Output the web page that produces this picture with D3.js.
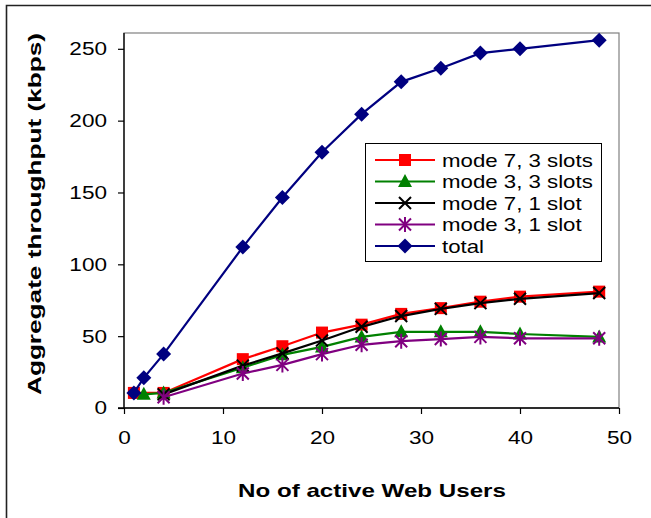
<!DOCTYPE html>
<html><head><meta charset="utf-8">
<script src="https://cdn.jsdelivr.net/npm/d3@7"></script>
<style>
body{margin:0;background:#fff;}
svg{display:block;font-family:"Liberation Sans",Arial,sans-serif;}
</style></head>
<body><svg id="c" width="651" height="518"></svg>
<script>
// ---- data ----
const seriesNames = ["mode 7, 3 slots","mode 3, 3 slots","mode 7, 1 slot","mode 3, 1 slot","total"];
const xMode73 = [1,4,12,16,20,24,28,32,36,40,48];
const yMode73 = [10.5,10.5,34,43,52.5,58,65.5,69.5,74,77.5,81];
const xMode33 = [2,4,12,16,20,24,28,32,36,40,48];
const yMode33 = [9.5,10.5,28,37,42.5,49.5,53,53,53,51.5,49.5];
const xMode71 = [4,12,16,20,24,28,32,36,40,48];
const yMode71 = [9.5,29.5,38,47,56.5,64,69,73,76,80];
const xMode31 = [4,12,16,20,24,28,32,36,40,48];
const yMode31 = [7.5,24,30,37.5,44,46.5,48,49.5,48.5,48.5];
const xTotal = [1,2,4,12,16,20,24,28,32,36,40,48];
const yTotal = [10.5,21,37.5,112,146.5,178,204.5,227,236.5,247,250,256];
const xTicks = [0,10,20,30,40,50];
const yTicks = [0,50,100,150,200,250];
const xMax = 50, yMax = 261;
const xTitle = "No of active Web Users";
const yTitle = "Aggregate throughput (kbps)";

// ---- drawing ----
const svg = d3.select("#c");
const L=124, R=619, T=33, B=408;
const x = d3.scaleLinear().domain([0,xMax]).range([L,R]);
const y = d3.scaleLinear().domain([0,yMax]).range([B,T]);

function stretch(sel, f){
  sel.each(function(){
    const n = this.getComputedTextLength();
    d3.select(this).attr("textLength", n*f).attr("lengthAdjust","spacingAndGlyphs");
  });
}

// outer frame (cropped: only top and left visible)
svg.append("path").attr("d","M6.5,518 V5.5 H651").attr("fill","none").attr("stroke","#222").attr("stroke-width",1.6);

// plot area border
svg.append("rect").attr("x",L).attr("y",T).attr("width",R-L).attr("height",B-T)
  .attr("fill","#fff").attr("stroke","#808080").attr("stroke-width",1.2);

// axes
const ax = svg.append("g").attr("transform",`translate(0,${B})`)
  .call(d3.axisBottom(x).tickValues(xTicks).tickSize(6).tickPadding(17).tickFormat(d3.format("d")));
const ay = svg.append("g").attr("transform",`translate(${L},0)`)
  .call(d3.axisLeft(y).tickValues(yTicks).tickSize(6).tickPadding(11).tickFormat(d3.format("d")));
[ax,ay].forEach(g=>{
  g.select(".domain").attr("stroke","#000").attr("stroke-width",1.3);
  g.selectAll(".tick line").attr("stroke","#000").attr("stroke-width",1.2);
  g.selectAll(".tick text").attr("fill","#000").style("font-size","18.5px").style("font-family","'Liberation Sans',Arial,sans-serif");
  stretch(g.selectAll(".tick text"), 1.22);
});
ay.select(".domain").attr("d",`M0,${T}V${B}`);
ax.select(".domain").attr("d",`M${L-6},0H${R}`);

// titles
const xt = svg.append("text").attr("x",372).attr("y",497).attr("text-anchor","middle")
  .style("font-size","19px").style("font-weight","bold").text(xTitle);
stretch(xt, 1.27);
const yt = svg.append("text").attr("transform","translate(41,214) rotate(-90)").attr("text-anchor","middle")
  .style("font-size","18.5px").style("font-weight","bold").text(yTitle);
yt.attr("textLength", 362).attr("lengthAdjust","spacingAndGlyphs");

// markers
function marker(g, type, color, cx, cy){
  if(type==="square"){
    g.append("rect").attr("x",cx-6).attr("y",cy-6).attr("width",12).attr("height",12).attr("fill",color);
  } else if(type==="triangle"){
    g.append("path").attr("d",`M${cx},${cy-7.5}L${cx+7},${cy+5.5}L${cx-7},${cy+5.5}Z`).attr("fill",color);
  } else if(type==="x"){
    g.append("path").attr("d",`M${cx-6},${cy-6}L${cx+6},${cy+6}M${cx+6},${cy-6}L${cx-6},${cy+6}`)
      .attr("stroke",color).attr("stroke-width",2).attr("fill","none");
  } else if(type==="star"){
    g.append("path").attr("d",`M${cx-6},${cy-6}L${cx+6},${cy+6}M${cx+6},${cy-6}L${cx-6},${cy+6}M${cx},${cy-7.5}L${cx},${cy+7.5}`)
      .attr("stroke",color).attr("stroke-width",2).attr("fill","none");
  } else if(type==="diamond"){
    g.append("path").attr("d",`M${cx},${cy-7.5}L${cx+7.5},${cy}L${cx},${cy+7.5}L${cx-7.5},${cy}Z`).attr("fill",color);
  }
}

const series = [
  {name:seriesNames[0], xs:xMode73, ys:yMode73, color:"#ff0000", m:"square"},
  {name:seriesNames[1], xs:xMode33, ys:yMode33, color:"#008000", m:"triangle"},
  {name:seriesNames[2], xs:xMode71, ys:yMode71, color:"#000000", m:"x"},
  {name:seriesNames[3], xs:xMode31, ys:yMode31, color:"#800080", m:"star"},
  {name:seriesNames[4], xs:xTotal, ys:yTotal, color:"#000080", m:"diamond"}
];
const line = d3.line().x(d=>x(d[0])).y(d=>y(d[1]));
series.forEach(s=>{
  const pts = s.xs.map((v,i)=>[v,s.ys[i]]);
  const g = svg.append("g");
  g.append("path").attr("d",line(pts)).attr("fill","none").attr("stroke",s.color).attr("stroke-width",2.2);
  pts.forEach(p=>marker(g,s.m,s.color,x(p[0]),y(p[1])));
});

// legend
const lg = svg.append("g");
lg.append("rect").attr("x",365.5).attr("y",143.5).attr("width",236).attr("height",118)
  .attr("fill","#fff").attr("stroke","#000").attr("stroke-width",1);
series.forEach((s,i)=>{
  const cy = 160 + i*21.5;
  lg.append("line").attr("x1",375).attr("x2",435).attr("y1",cy).attr("y2",cy).attr("stroke",s.color).attr("stroke-width",2.2);
  marker(lg,s.m,s.color,405,cy);
  const t = lg.append("text").attr("x",442).attr("y",cy).attr("dy","0.36em").style("font-size","19px").text(s.name);
  stretch(t, 1.17);
});
</script></body></html>
